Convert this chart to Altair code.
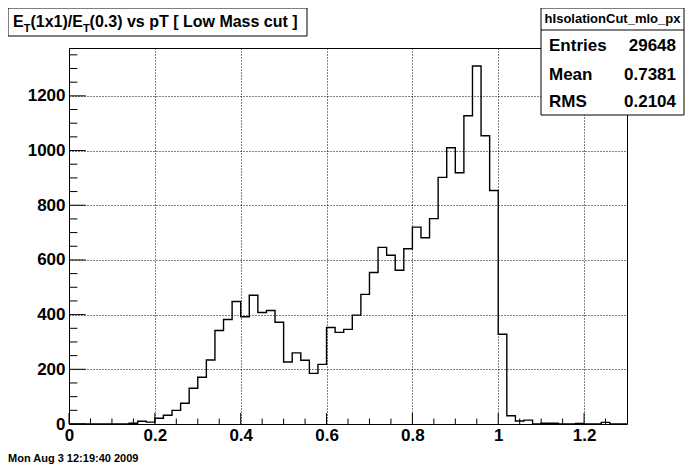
import altair as alt
import pandas as pd

# ---------------- data ----------------
bin_width = 0.02
bin_left = [round(i * bin_width, 2) for i in range(65)]
counts = [0, 0, 0, 0, 0, 0, 0, 3, 10, 7,
          21, 32, 50, 76, 131, 171, 234, 342, 382, 448,
          392, 471, 408, 415, 372, 227, 260, 233, 185, 218,
          353, 335, 346, 398, 474, 554, 646, 617, 562, 641,
          720, 681, 751, 902, 1010, 919, 1127, 1309, 1054, 854,
          328, 30, 11, 14, 0, 3, 3, 0, 0, 2,
          0, 0, 6, 0, 0]

x_major = [0, 0.2, 0.4, 0.6, 0.8, 1.0, 1.2]
x_minor = [0.05, 0.1, 0.15, 0.25, 0.3, 0.35, 0.45, 0.5, 0.55, 0.65, 0.7, 0.75,
           0.85, 0.9, 0.95, 1.05, 1.1, 1.15, 1.25]
y_major = [0, 200, 400, 600, 800, 1000, 1200]
y_minor = [50, 100, 150, 250, 300, 350, 450, 500, 550, 650, 700, 750,
           850, 900, 950, 1050, 1100, 1150, 1250, 1300, 1350]

stats_name = "hIsolationCut_mlo_px"
stats_labels = ["Entries", "Mean", "RMS"]
stats_values = ["29648", "0.7381", "0.2104"]
title_parts = ["E", "T", "(1x1)/E", "T", "(0.3) vs pT [ Low Mass cut ]"]
date_text = "Mon Aug  3 12:19:40 2009"

# ---------------- layout ----------------
W, H = 558, 376
FONT = "Liberation Sans"

xs = alt.Scale(domain=[0, 1.3], nice=False, zero=False)
ys = alt.Scale(domain=[0, 1375], nice=False, zero=False)

x_axis = alt.Axis(
    values=x_major, format="~g", grid=True, gridDash=[1, 2], gridColor="black",
    gridOpacity=1, gridWidth=1, ticks=False, tickSize=0, domain=False, labelFont=FONT,
    labelFontWeight="bold", labelFontSize=17, labelColor="black",
    labelPadding=3, labelFlush=False, labelOverlap=False, title=None)
y_axis = alt.Axis(
    values=y_major, format="d", grid=True, gridDash=[1, 2], gridColor="black",
    gridOpacity=1, gridWidth=1, ticks=False, tickSize=0, domain=False, labelFont=FONT,
    labelFontWeight="bold", labelFontSize=17, labelColor="black",
    labelPadding=4, labelFlush=False, labelOverlap=False, title=None)

hist_df = pd.DataFrame({"x": bin_left + [1.30], "y": counts + [counts[-1]]})

hist = alt.Chart(hist_df).mark_line(
    interpolate="step-after", color="black", strokeWidth=1.4
).encode(
    x=alt.X("x:Q", scale=xs, axis=x_axis),
    y=alt.Y("y:Q", scale=ys, axis=y_axis),
)


def xticks(vals, length):
    return alt.Chart(pd.DataFrame({"x": vals})).mark_rule(color="black", strokeWidth=1).encode(
        x=alt.X("x:Q", scale=xs, axis=x_axis), y=alt.value(H), y2=alt.value(H - length))


def yticks(vals, length):
    return alt.Chart(pd.DataFrame({"y": vals})).mark_rule(color="black", strokeWidth=1).encode(
        y=alt.Y("y:Q", scale=ys, axis=y_axis), x=alt.value(0), x2=alt.value(length))


def box(x1, x2, y1, y2):
    return alt.Chart(pd.DataFrame({"k": [0]})).mark_rect(
        fill="white", stroke="black", strokeWidth=1
    ).encode(x=alt.value(x1), x2=alt.value(x2), y=alt.value(y1), y2=alt.value(y2))


def hline(x1, x2, y):
    return alt.Chart(pd.DataFrame({"k": [0]})).mark_rule(color="black", strokeWidth=1).encode(
        x=alt.value(x1), x2=alt.value(x2), y=alt.value(y))


def txt(s, x, y, size, align="left", baseline="alphabetic", font=FONT):
    return alt.Chart(pd.DataFrame({"t": [s]})).mark_text(
        align=align, baseline=baseline, font=font, fontSize=size,
        fontWeight="bold", color="black"
    ).encode(x=alt.value(x), y=alt.value(y), text="t:N")


# title box
title_box = box(-61, 238, -40, -12)
F, FS = 16, 11
title_layers = [
    txt(title_parts[0], -56.0, -21, F),
    txt(title_parts[1], -45.3, -16, FS),
    txt(title_parts[2], -38.6, -21, F),
    txt(title_parts[3], 13.9, -16, FS),
    txt(title_parts[4], 20.6, -21, F),
]

# stats box
SX1, SX2 = 472, 615
stats_layers = [
    box(SX1, SX2, -40, 67),
    hline(SX1, SX2, -18),
    txt(stats_name, (SX1 + SX2) / 2, -29, 13, align="center", baseline="middle"),
]
row_y = [-2, 27, 54]
for lab, val, ry in zip(stats_labels, stats_values, row_y):
    stats_layers.append(txt(lab, SX1 + 8, ry, 17, baseline="middle"))
    stats_layers.append(txt(val, SX2 - 8, ry, 17, align="right", baseline="middle"))

date = txt(date_text, -61, 411, 11, baseline="middle")

chart = alt.layer(
    hist,
    xticks(x_major, 11), xticks(x_minor, 5.5),
    yticks(y_major, 16.7), yticks(y_minor, 8.4),
    title_box, *title_layers,
    *stats_layers,
    date,
).properties(
    width=W, height=H,
    padding={"left": 61, "top": 40, "right": 61, "bottom": 40},
    autosize=alt.AutoSizeParams(type="none"),
    background="white",
).configure_view(stroke="black", strokeWidth=1)

chart.save("out.html", embed_options={"renderer": "svg", "actions": False})
